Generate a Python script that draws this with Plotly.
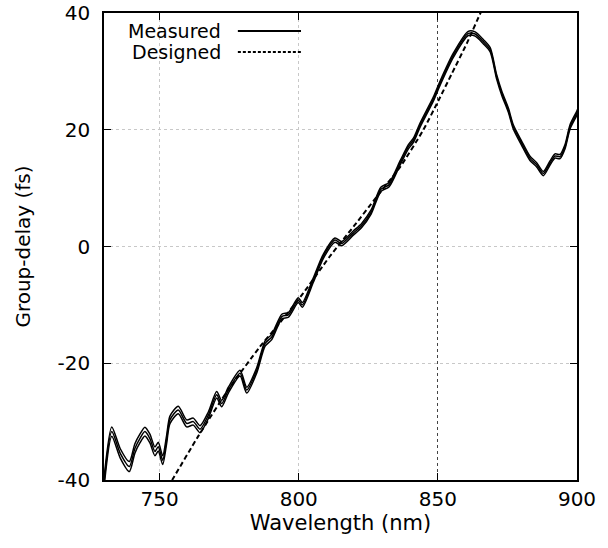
import plotly.graph_objects as go

# Measured group delay (center of the band)
wl_meas = [730.0, 732.8, 735.8, 739.1, 741.1, 742.9, 744.7, 746.5, 748.3, 749.5,
           751.1, 752.5, 753.7, 756.7, 759.7, 762.1, 764.5, 767.5, 770.5, 772.3,
           774.7, 778.9, 781.3, 784.9, 787.9, 790.3, 793.9, 796.3, 799.8, 801.3,
           805.2, 808.8, 813.0, 815.4, 819.6, 822.6, 826.0, 829.5, 832.5, 836.4,
           839.4, 841.2, 843.6, 848.4, 850.8, 855.6, 860.9, 863.4, 866.3, 868.8,
           871.1, 873.0, 875.3, 877.1, 880.1, 883.1, 885.5, 887.9, 890.3, 892.1,
           893.9, 895.7, 897.5, 899.9, 901.0]
gd_meas = [-40.5, -31.7, -35.4, -37.7, -34.6, -32.9, -31.7, -32.9, -35.1, -34.3,
           -36.6, -33.1, -29.7, -28.0, -30.3, -30.0, -31.3, -28.9, -25.4, -26.9,
           -24.6, -21.7, -24.6, -21.2, -16.6, -15.5, -12.0, -11.7, -9.2, -10.0,
           -5.8, -1.7, 1.1, 0.5, 2.3, 3.6, 5.9, 9.8, 10.6, 14.3,
           17.1, 18.2, 20.8, 25.3, 28.0, 32.8, 36.5, 36.4, 35.1, 33.7,
           29.1, 26.2, 23.4, 20.5, 17.7, 15.1, 14.0, 12.5, 14.3, 15.5,
           15.4, 17.1, 20.5, 22.8, 24.0]
# half-width of the measured band (fs)
spread_meas = [0.8, 0.8, 0.8, 0.85, 0.8, 0.75, 0.75, 0.75, 0.75, 0.75,
               0.75, 0.7, 0.65, 0.65, 0.6, 0.6, 0.6, 0.55, 0.55, 0.55,
               0.5, 0.5, 0.5, 0.45, 0.45, 0.45, 0.4, 0.4, 0.4, 0.4,
               0.38, 0.36, 0.36, 0.36, 0.36, 0.36, 0.36, 0.36, 0.36, 0.36,
               0.36, 0.36, 0.36, 0.36, 0.36, 0.36, 0.36, 0.36, 0.36, 0.36,
               0.36, 0.36, 0.36, 0.36, 0.36, 0.36, 0.36, 0.36, 0.36, 0.36,
               0.36, 0.36, 0.36, 0.36, 0.36]

# Designed group delay
wl_design = [753.0, 754.5, 764.0, 775.0, 786.0, 793.0, 801.6, 811.0, 820.0, 828.0,
             836.4, 844.8, 850.2, 855.0, 860.4, 865.3, 867.0]
gd_design = [-41.2, -40.0, -32.4, -24.3, -17.2, -13.2, -8.0, -1.8, 3.6, 8.5,
             13.6, 20.0, 25.0, 29.6, 34.8, 40.0, 41.8]

x_ticks = [750, 800, 850, 900]
y_ticks = [-40, -20, 0, 20, 40]

FONT = "DejaVu Sans"

fig = go.Figure()

upper = [g + s for g, s in zip(gd_meas, spread_meas)]
lower = [g - s for g, s in zip(gd_meas, spread_meas)]
for ys in (upper, lower, gd_meas):
    fig.add_trace(go.Scatter(x=wl_meas, y=ys, mode="lines",
                             line=dict(color="black", width=1.5, shape="spline", smoothing=0.7),
                             showlegend=False, hoverinfo="skip"))

fig.add_trace(go.Scatter(x=wl_design, y=gd_design, mode="lines",
                         line=dict(color="black", width=2, dash="5px,3px", shape="spline", smoothing=0.6),
                         showlegend=False))

# invisible trace on overlaid axis to show the darker grid line at 850 nm
fig.add_trace(go.Scatter(x=[850], y=[0], xaxis="x2", mode="markers",
                         marker=dict(opacity=0), showlegend=False, hoverinfo="skip"))

axis_common = dict(showline=True, linecolor="black", linewidth=1.5, mirror="ticks",
                   ticks="inside", ticklen=7, tickwidth=1.3, tickcolor="black",
                   tickfont=dict(family=FONT, size=20, color="black"),
                   zeroline=False, griddash="dot", gridcolor="#c8c8c8", gridwidth=1,
                   automargin=False)

fig.update_layout(
    width=608, height=548,
    margin=dict(l=104, r=31, t=13, b=68),
    plot_bgcolor="white", paper_bgcolor="white",
    xaxis=dict(range=[730, 900], tickvals=x_ticks, ticktext=[str(v) for v in x_ticks],
               ticklabelstandoff=0,
               title=dict(text="Wavelength (nm)", font=dict(family=FONT, size=21, color="black"),
                          standoff=4),
               **axis_common),
    xaxis2=dict(overlaying="x", matches="x", range=[730, 900], tickvals=[850],
                showticklabels=False, showgrid=True, griddash="dot", gridcolor="#444",
                gridwidth=1, zeroline=False, showline=False, ticks="", automargin=False),
    yaxis=dict(range=[-40, 40], tickvals=y_ticks, ticktext=[str(v) for v in y_ticks],
               ticklabelstandoff=8,
               title=dict(text="Group-delay (fs)", font=dict(family=FONT, size=20, color="black"),
                          standoff=22),
               **axis_common),
    showlegend=False,
)

# custom legend (text on the left, line sample on the right)
fig.add_annotation(x=0.2516, y=0.9615, xref="paper", yref="paper", text="Measured",
                   showarrow=False, xanchor="right", yanchor="middle",
                   font=dict(family=FONT, size=19, color="black"))
fig.add_annotation(x=0.2516, y=0.9165, xref="paper", yref="paper", text="Designed",
                   showarrow=False, xanchor="right", yanchor="middle",
                   font=dict(family=FONT, size=19, color="black"))
fig.add_shape(type="line", xref="paper", yref="paper", x0=0.283, x1=0.4165, y0=0.9615, y1=0.9615,
              line=dict(color="black", width=1.8))
fig.add_shape(type="line", xref="paper", yref="paper", x0=0.283, x1=0.4165, y0=0.9165, y1=0.9165,
              line=dict(color="black", width=1.8, dash="3px,2px"))

fig.write_html("out.html", config={"displayModeBar": False},
               post_script="document.body.style.margin='0';")
